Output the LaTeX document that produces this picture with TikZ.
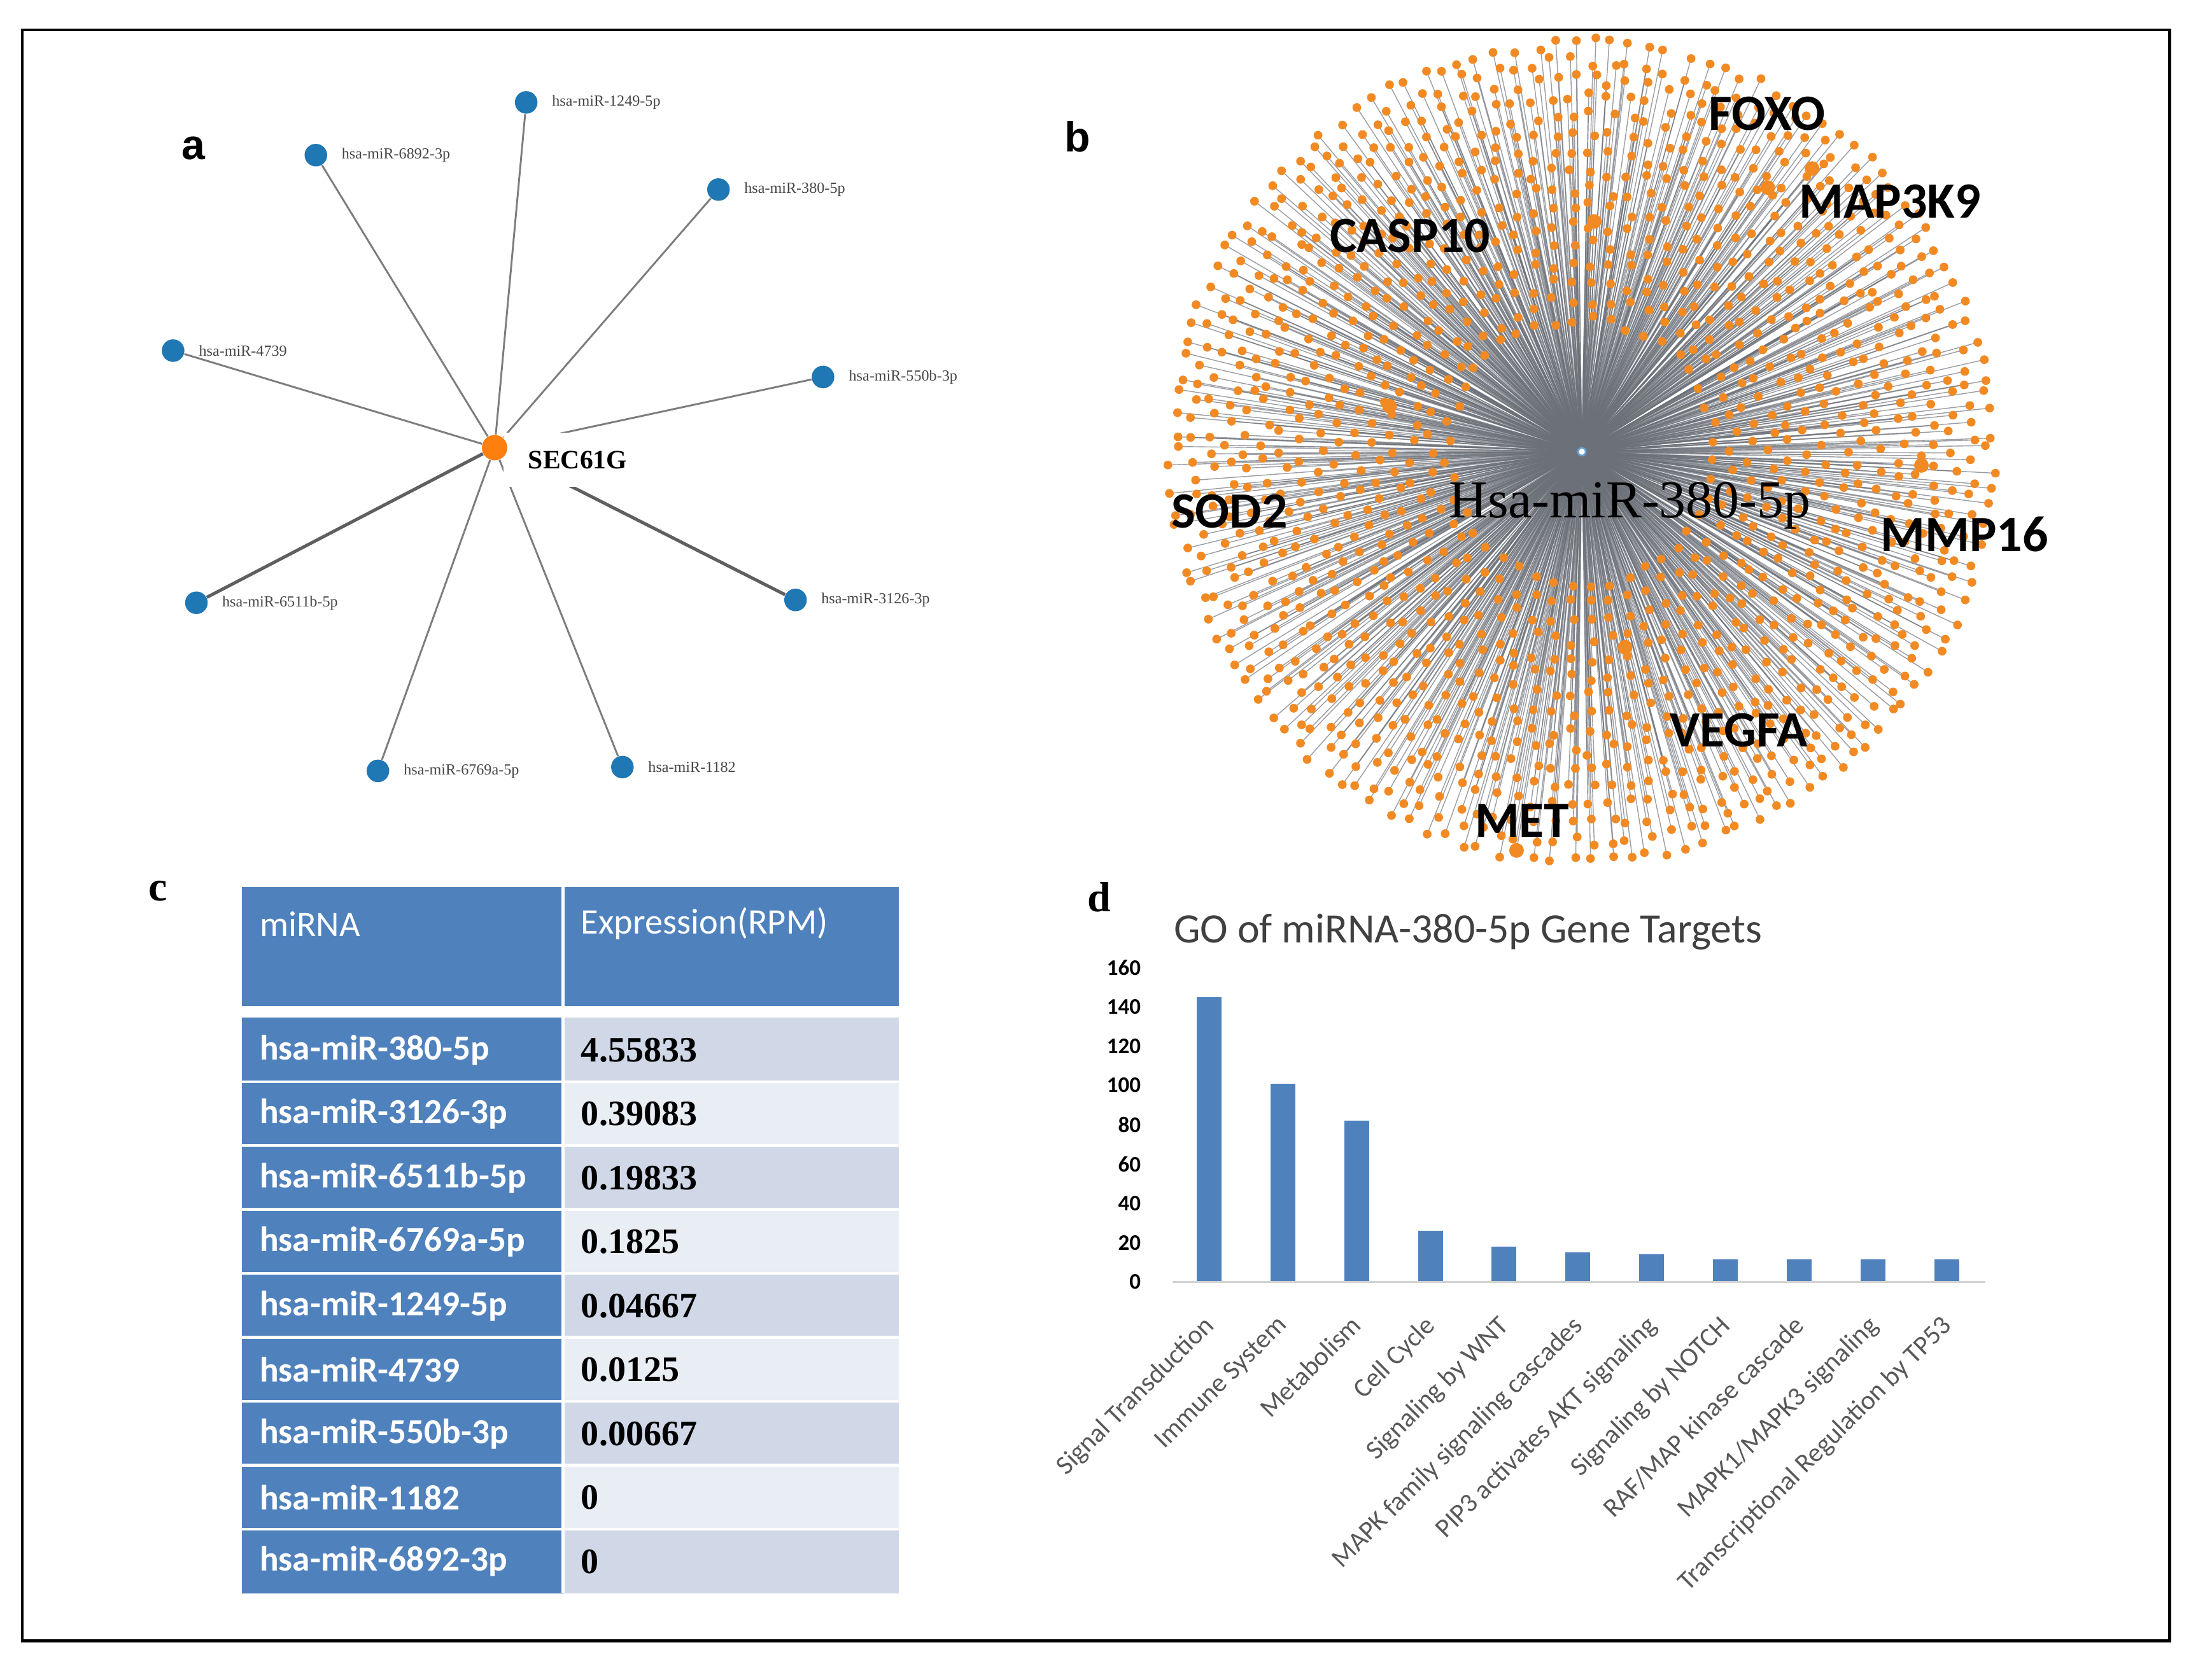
\documentclass[tikz,border=0pt]{standalone}
\usepackage{fontspec}
\setmainfont{Liberation Serif}
\newfontfamily\carl{Carlito}
\newfontfamily\arl{Liberation Sans}
\definecolor{nblue}{RGB}{31,119,180}
\definecolor{norange}{RGB}{255,127,14}
\definecolor{dorange}{RGB}{242,138,36}
\definecolor{tblue}{HTML}{4F81BD}
\definecolor{bandA}{HTML}{D0D8E8}
\definecolor{bandB}{HTML}{E9EDF4}
\definecolor{bedge}{RGB}{108,112,120}
\definecolor{aedgec}{RGB}{125,125,125}
\definecolor{aedged}{RGB}{95,95,95}
\definecolor{txtgray}{HTML}{595959}
\definecolor{titlec}{HTML}{404040}
\definecolor{mlabc}{RGB}{70,70,70}
\definecolor{axisc}{RGB}{210,210,210}
\pgfdeclarelayer{bg}
\pgfdeclarelayer{mid}
\pgfsetlayers{bg,mid,main}
\tikzset{
  plabs/.style={font=\arl\bfseries\fontsize{17pt}{20pt}\selectfont, inner sep=0},
  plabr/.style={font=\rmfamily\bfseries\fontsize{17pt}{20pt}\selectfont, inner sep=0},
  bnode/.style={circle, fill=nblue, minimum size=0.32cm, inner sep=0},
  onode/.style={circle, fill=norange, minimum size=0.36cm, inner sep=0},
  aedge/.style={draw=aedgec, line width=0.75pt},
  aedgeb/.style={draw=aedged, line width=1.3pt},
  mlab/.style={font=\rmfamily\fontsize{6.2pt}{7pt}\selectfont, text=mlabc, anchor=west, inner sep=0},
  seclab/.style={font=\rmfamily\bfseries\fontsize{10.7pt}{12pt}\selectfont, fill=white, minimum width=2.1cm, minimum height=0.76cm, inner sep=0},
  bcen/.style={circle, draw={rgb,255:red,100;green,160;blue,210}, fill=white, line width=0.7pt, minimum size=0.11cm, inner sep=0},
  bline/.style={draw=bedge, line width=0.36pt, opacity=0.68},
  glab/.style={font=\carl\bfseries\fontsize{20.5pt}{24pt}\selectfont, inner sep=0},
  hsalab/.style={font=\rmfamily\fontsize{21.5pt}{25pt}\selectfont, inner sep=0},
  thead/.style={font=\carl\fontsize{14.5pt}{17pt}\selectfont, text=white, anchor=west, inner sep=0},
  tname/.style={font=\carl\bfseries\fontsize{14.2pt}{17pt}\selectfont, text=white, anchor=west, inner sep=0},
  tval/.style={font=\rmfamily\bfseries\fontsize{14.4pt}{17pt}\selectfont, text=black, anchor=west, inner sep=0},
  ctitle/.style={font=\carl\fontsize{16.9pt}{19pt}\selectfont, text=titlec, inner sep=0},
  ylab/.style={font=\carl\bfseries\fontsize{9pt}{10pt}\selectfont, text=black, anchor=east, inner sep=0},
  xlab/.style={font=\carl\fontsize{10.8pt}{13pt}\selectfont, text=txtgray, anchor=north east, rotate=45, inner sep=0.5pt},
  barc/.style={fill=tblue}
}
\begin{document}
\begin{tikzpicture}[x=0.02cm,y=-0.02cm]
\useasboundingbox (0,0) rectangle (1568,1186);
\begin{pgfonlayer}{bg}
\fill[white] (0,0) rectangle (1568,1186);
\end{pgfonlayer}
\draw[line width=1.15pt] (15.8,21.2) rectangle (1537.9,1163.4);

% ---------------- panel a ----------------
\node[plabs] (la) at (137,105) {a};
\node[onode] (sec) at (350.6,317.4) {};
\node[bnode] (m1249) at (373,72.6) {};
\node[bnode] (m6892) at (223.9,110) {};
\node[bnode] (m380) at (509.3,134.4) {};
\node[bnode] (m4739) at (122.7,248.6) {};
\node[bnode] (m550) at (583.4,267.3) {};
\node[bnode] (m6511) at (139.2,427.4) {};
\node[bnode] (m3126) at (563.9,425.4) {};
\node[bnode] (m6769) at (267.9,546.6) {};
\node[bnode] (m1182) at (441.2,543.9) {};
\node[mlab] (l1249) at (391,72.6) {hsa-miR-1249-5p};
\node[mlab] (l6892) at (241.9,110) {hsa-miR-6892-3p};
\node[mlab] (l380) at (527.3,134.4) {hsa-miR-380-5p};
\node[mlab] (l4739) at (140.7,248.6) {hsa-miR-4739};
\node[mlab] (l550) at (601.4,267.3) {hsa-miR-550b-3p};
\node[mlab] (l6511) at (157.2,427.4) {hsa-miR-6511b-5p};
\node[mlab] (l3126) at (581.9,425.4) {hsa-miR-3126-3p};
\node[mlab] (l6769) at (285.9,546.6) {hsa-miR-6769a-5p};
\node[mlab] (l1182) at (459.2,543.9) {hsa-miR-1182};
\begin{pgfonlayer}{bg}
\draw[aedge] (sec) -- (m1249);
\draw[aedge] (sec) -- (m6892);
\draw[aedge] (sec) -- (m380);
\draw[aedge] (sec) -- (m4739);
\draw[aedge] (sec) -- (m550);
\draw[aedgeb] (sec) -- (m6511);
\draw[aedgeb] (sec) -- (m3126);
\draw[aedge] (sec) -- (m6769);
\draw[aedge] (sec) -- (m1182);
\end{pgfonlayer}
\begin{pgfonlayer}{mid}
\node[seclab] (seclabel) at (409.5,326) {SEC61G};
\end{pgfonlayer}

% ---------------- panel b ----------------
\node[plabs] (lb) at (764,97) {b};
\node[bcen] (bc) at (1121.3,320.3) {};
\pgfmathsetseed{11}
\foreach \k in {0,...,15}{
  \pgfmathsetmacro\rr{290-13*\k}
  \pgfmathtruncatemacro\nn{6.2832*\rr/13.5}
  \foreach \j in {1,...,\nn}{
    \pgfmathsetmacro\ang{(\j+0.5*mod(\k,2))/\nn*360+(rnd-0.5)*1.8}
    \pgfmathsetmacro\rad{\rr+(rnd-0.5)*8}
    \path (bc.center) ++(\ang:\rad) coordinate (r\k-\j);
  }
}
\coordinate (g1) at (1284.5,119.5);
\coordinate (g2) at (1253,133);
\coordinate (g3) at (1362,330);
\coordinate (g4) at (1130,157);
\coordinate (g5) at (985,288);
\coordinate (g6) at (1152,459);
\coordinate (g7) at (1075,603);
\begin{pgfonlayer}{bg}
\foreach \k in {0,...,15}{
  \pgfmathsetmacro\rr{290-13*\k}
  \pgfmathtruncatemacro\nn{6.2832*\rr/13.5}
  \foreach \j in {1,...,\nn}{\draw[bline] (bc) -- (r\k-\j);}
}
\foreach \i in {1,...,7}{\draw[bline] (bc) -- (g\i);}
\end{pgfonlayer}
\begin{pgfonlayer}{mid}
\foreach \k in {0,...,15}{
  \pgfmathsetmacro\rr{290-13*\k}
  \pgfmathtruncatemacro\nn{6.2832*\rr/13.5}
  \foreach \j in {1,...,\nn}{\fill[dorange] (r\k-\j) circle (3.1);}
}
\foreach \i in {1,...,7}{\fill[dorange] (g\i) circle (5.2);}
\end{pgfonlayer}
\node[glab] (foxo) at (1252.5,80.6) {FOXO};
\node[glab] (map3k9) at (1339.7,143) {MAP3K9};
\node[glab] (casp10) at (999.5,167) {CASP10};
\node[glab] (sod2) at (871.5,362.6) {SOD2};
\node[glab] (mmp16) at (1392.5,378.8) {MMP16};
\node[glab] (vegfa) at (1232.5,517.8) {VEGFA};
\node[glab] (met) at (1079,582) {MET};
\node[hsalab, anchor=base] (hsa) at (1155.3,367) {Hsa-miR-380-5p};

% ---------------- panel c ----------------
\node[plabr] (lc) at (112,632) {c};
\fill[tblue] (171.6,629) rectangle (637,713.5);
\draw[white, line width=1.2pt] (399,629) -- (399,713.5);
\foreach \k/\c in {0/bandA,1/bandB,2/bandA,3/bandB,4/bandA,5/bandB,6/bandA,7/bandB,8/bandA}{
  \fill[tblue] (171.6,721.6+45.33*\k) rectangle (399,767+45.33*\k);
  \fill[\c] (399,721.6+45.33*\k) rectangle (637,767+45.33*\k);
}
\foreach \k in {1,...,8}{
  \draw[white, line width=1.1pt] (171.6,721.6+45.33*\k) -- (637,721.6+45.33*\k);
}
\draw[white, line width=1.2pt] (399,721.6) -- (399,1129.6);
\node[thead] (h1) at (183.8,655) {miRNA};
\node[thead] (h2) at (411.6,655) {Expression(RPM)};
\foreach \k/\n/\v in {0/hsa-miR-380-5p/4.55833, 1/hsa-miR-3126-3p/0.39083, 2/hsa-miR-6511b-5p/0.19833, 3/hsa-miR-6769a-5p/0.1825, 4/hsa-miR-1249-5p/0.04667, 5/hsa-miR-4739/0.0125, 6/hsa-miR-550b-3p/0.00667, 7/hsa-miR-1182/0, 8/hsa-miR-6892-3p/0}{
  \node[tname] (n\k) at (183.8,744.6+45.33*\k) {\n};
  \node[tval] (v\k) at (411.6,744.6+45.33*\k) {\v};
}

% ---------------- panel d ----------------
\node[plabr] (ld) at (779,636) {d};
\node[ctitle] (ttl) at (1040.5,661) {GO of miRNA-380-5p Gene Targets};
\foreach \v in {0,20,...,160}{
  \node[ylab] (y\v) at (809,909-1.394*\v) {\v};
}
\foreach \i/\v in {0/145,1/101,2/82,3/26,4/18,5/15,6/14,7/11.5,8/11.5,9/11.5,10/11.5}{
  \fill[barc] (848.2+52.3*\i,909) rectangle (865.8+52.3*\i,909-1.394*\v);
}
\draw[axisc, line width=0.7pt] (831,909) -- (1407.5,909);
\node[xlab] (x0) at (852,930) {Signal Transduction};
\node[xlab] (x1) at (904.3,930) {Immune System};
\node[xlab] (x2) at (956.6,930) {Metabolism};
\node[xlab] (x3) at (1008.9,930) {Cell Cycle};
\node[xlab] (x4) at (1061.2,930) {Signaling by WNT};
\node[xlab] (x5) at (1113.5,930) {MAPK family signaling cascades};
\node[xlab] (x6) at (1165.8,930) {PIP3 activates AKT signaling};
\node[xlab] (x7) at (1218.1,930) {Signaling by NOTCH};
\node[xlab] (x8) at (1270.4,930) {RAF/MAP kinase cascade};
\node[xlab] (x9) at (1322.7,930) {MAPK1/MAPK3 signaling};
\node[xlab] (x10) at (1375,930) {Transcriptional Regulation by TP53};
\end{tikzpicture}
\end{document}
